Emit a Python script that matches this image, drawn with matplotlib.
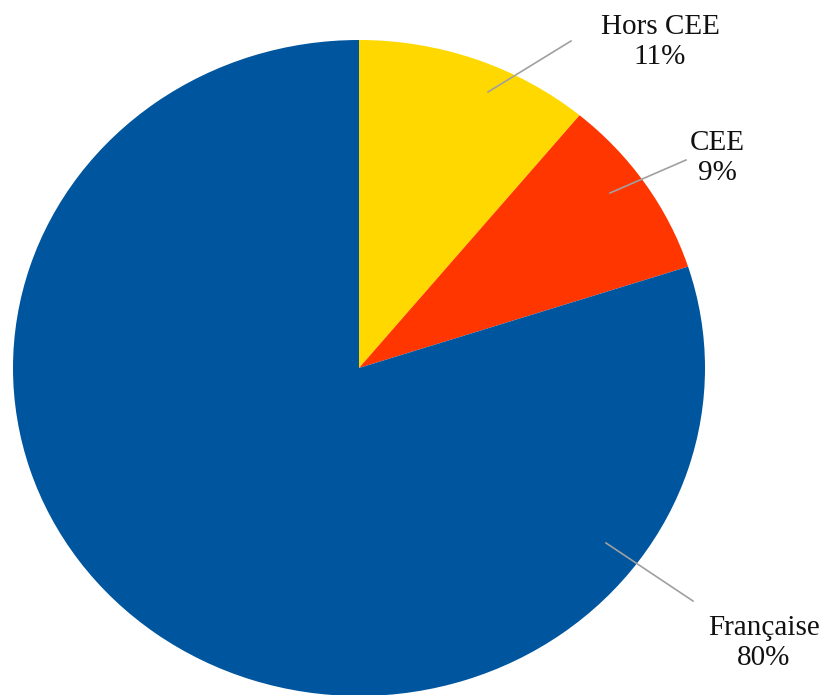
import matplotlib.pyplot as plt

labels = ["Hors CEE", "CEE", "Française"]
values = [11, 9, 80]
colors = ["#FFD800", "#FF3600", "#00559F"]

W, H = 823, 695
fig = plt.figure(figsize=(W / 100, H / 100), dpi=100)
ax = fig.add_axes([0, 0, 1, 1])

ax.pie(values, colors=colors, startangle=90, counterclock=False,
       wedgeprops=dict(linewidth=0))

# the original pie is slightly stretched sideways and cut at the bottom
cx, cy, rx, ry = 359, 368, 346, 328
ax.set_aspect("auto")
ax.set_xlim(-cx / rx, (W - cx) / rx)
ax.set_ylim(-(H - cy) / ry, cy / ry)
ax.axis("off")


def px(x, y):
    return (x - cx) / rx, (cy - y) / ry


# label layout in pixels: (line start, line end, text position)
layout = [
    ((488, 92), (571, 41), (660, 42)),
    ((610, 193), (686, 160), (717, 158)),
    ((606, 543), (693, 601), (764, 643)),
]
for lab, v, (p0, p1, pt) in zip(labels, values, layout):
    a, b = px(*p0), px(*p1)
    ax.plot([a[0], b[0]], [a[1], b[1]], color="#a0a0a0", lw=1.2)
    tx, ty = px(*pt)
    ax.text(tx, ty, f"{lab}\n{v}%", ha="center", va="center",
            fontsize=21, family="Liberation Serif", color="#111111",
            linespacing=1.2)

fig.savefig("out.png", dpi=100)
